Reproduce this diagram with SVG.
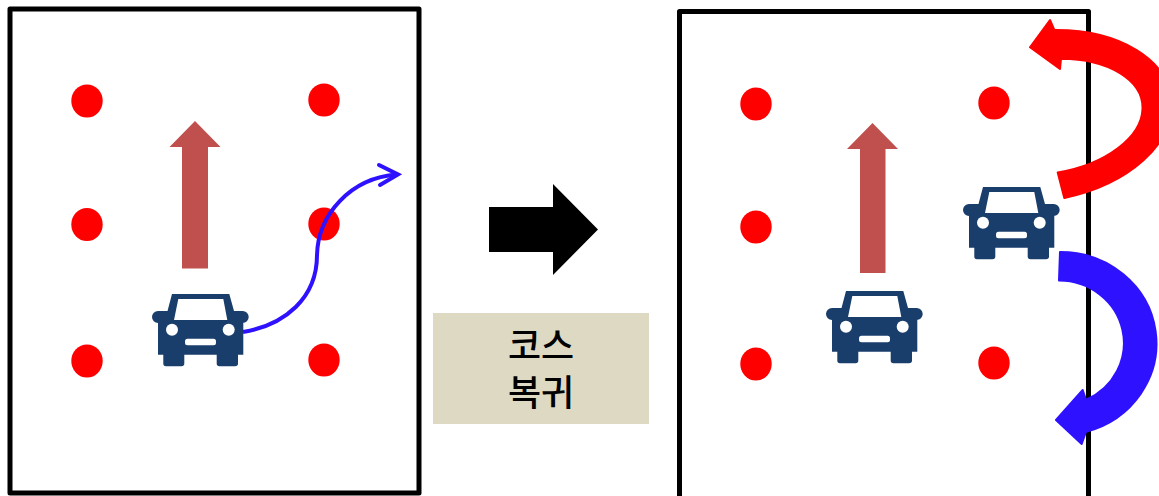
<svg xmlns="http://www.w3.org/2000/svg" width="1159" height="496" viewBox="0 0 1159 496">
<style>
.frame{fill:#fff;stroke:#000;stroke-width:5;stroke-linejoin:round}
.dot{fill:#f00}
.up{fill:#c0504d}
.car{fill:#1a3e6b}
.hole{fill:#fff}
.label{font-family:"Noto Sans CJK KR","Noto Sans",sans-serif;font-size:36px;font-weight:500;fill:#000;text-anchor:middle}
</style>
<defs>
<g id="car-shape">
<path class="car" fill-rule="evenodd" d="M20 0H77.300L82 17H90.700A6 6 0 0 1 90.700 29H91.300V60.700H86V69.500Q86 72.300 83 72.300H67.500Q64.700 72.300 64.700 69.500V60.700H32.300V69.500Q32.300 72.300 29.500 72.300H14Q11.300 72.300 11.300 69.500V60.700H6V29A6 6 0 0 1 6 17H15.500ZM26.300 5L22 26H75.300L71.300 5Z"/>
<circle class="hole" cx="20" cy="35.700" r="6"/>
<circle class="hole" cx="76.700" cy="35.700" r="6"/>
<rect class="hole" x="33" y="44.700" width="31" height="6.500" rx="2.500"/>
</g>
</defs>
<g id="left-panel">
<rect class="frame" x="10" y="9" width="409" height="484"/>
<ellipse class="dot" cx="87" cy="101" rx="15.700" ry="16.500"/>
<ellipse class="dot" cx="324" cy="100" rx="15.700" ry="16.500"/>
<ellipse class="dot" cx="87" cy="224.500" rx="15.700" ry="16.500"/>
<ellipse class="dot" cx="324" cy="224" rx="15.700" ry="16.500"/>
<ellipse class="dot" cx="87" cy="361" rx="15.700" ry="16.500"/>
<ellipse class="dot" cx="324" cy="360" rx="15.700" ry="16.500"/>
<path class="up" d="M195 121L220.500 147H208V268.500H182V147H169.500Z"/>
</g>
<g id="left-car"><use href="#car-shape" x="152" y="294"/></g>
<g id="right-panel">
<rect class="frame" x="679.500" y="11.500" width="409" height="490"/>
<ellipse class="dot" cx="756" cy="104" rx="15.700" ry="16.500"/>
<ellipse class="dot" cx="994" cy="103" rx="15.700" ry="16.500"/>
<ellipse class="dot" cx="756" cy="227" rx="15.700" ry="16.500"/>
<ellipse class="dot" cx="756" cy="364" rx="15.700" ry="16.500"/>
<ellipse class="dot" cx="994" cy="363" rx="15.700" ry="16.500"/>
<path class="up" d="M872.500 123L898 149H885.500V273H860V149H847Z"/>
</g>
<g id="right-car-1"><use href="#car-shape" x="826" y="291"/></g>
<g id="right-car-2"><use href="#car-shape" x="963" y="187"/></g>
<g id="transition">
<path d="M489 207H553V184L598 229.500L553 275V252H489Z" fill="#000"/>
</g>
<g id="label-box">
<rect x="433" y="313" width="216" height="111" fill="#ddd9c3"/>
<text class="label" x="541" y="359">코스</text>
<text class="label" x="541" y="406">복귀</text>
</g>
<g id="connectors">
<path d="M243 332C285 325 317 298 317 255C318 215 350 178 397 174.500" fill="none" stroke="#2e12ff" stroke-width="4"/>
<path d="M379 165L398 174.500L380 185" fill="none" stroke="#2e12ff" stroke-width="4" stroke-linecap="round"/>
<path d="M1030 47.300L1050 20L1054.300 30A134 85 -8 0 1 1064.300 198L1057.700 172.500A98 57 -8 0 0 1061 58.700L1060 69Z" fill="#f00" stroke="#f00" stroke-width="2" stroke-linejoin="round"/>
<path d="M1060 252A96 91.500 0 0 1 1086 431.700L1081.700 444L1056 420L1082.700 390L1086 399.800A65 62.500 0 0 0 1059 280.500Z" fill="#2e12ff" stroke="#2e12ff" stroke-width="2" stroke-linejoin="round"/>
</g>
</svg>
